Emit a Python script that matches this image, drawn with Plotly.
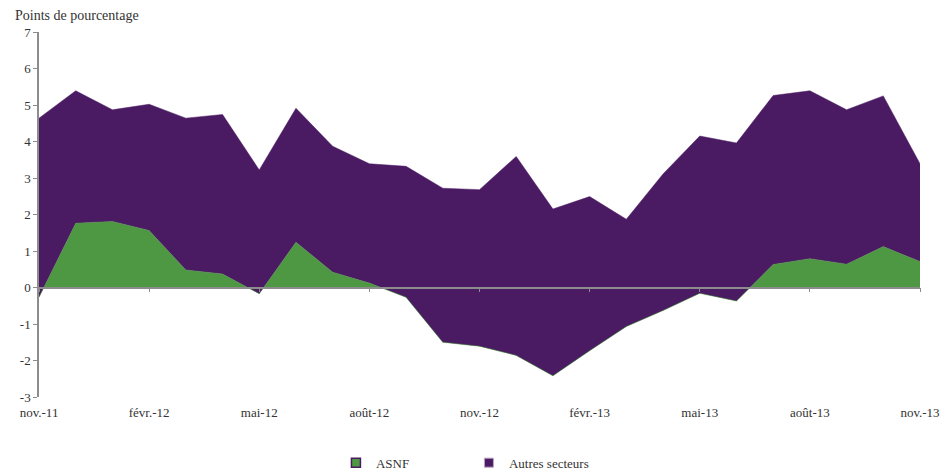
import plotly.graph_objects as go

months = ["nov.-11","déc.-11","janv.-12","févr.-12","mars-12","avr.-12","mai-12","juin-12",
          "juil.-12","août-12","sept.-12","oct.-12","nov.-12","déc.-12","janv.-13","févr.-13",
          "mars-13","avr.-13","mai-13","juin-13","juil.-13","août-13","sept.-13","oct.-13","nov.-13"]
asnf = [-0.27, 1.76, 1.81, 1.56, 0.48, 0.37, -0.17, 1.24, 0.42, 0.12, -0.27, -1.50, -1.61,
        -1.86, -2.42, -1.73, -1.07, -0.63, -0.16, -0.37, 0.63, 0.79, 0.64, 1.12, 0.71]
autres = [4.91, 3.63, 3.06, 3.46, 4.16, 4.37, 3.39, 3.67, 3.45, 3.27, 3.59, 4.22, 4.29,
          5.45, 4.57, 4.22, 2.94, 3.74, 4.31, 4.33, 4.63, 4.60, 4.23, 4.13, 2.68]
tick_idx = [0, 3, 6, 9, 12, 15, 18, 21, 24]
tick_labels = ["nov.-11","févr.-12","mai-12","août-12","nov.-12","févr.-13","mai-13","août-13","nov.-13"]
y_ticks = [-3, -2, -1, 0, 1, 2, 3, 4, 5, 6, 7]
y_labels = ["-3", "-2", "-1", "0", "1", "2", "3", "4", "5", "6", "7"]

GREEN = "#4e9844"
PURPLE = "#4a1a62"
FONT = "Liberation Serif, DejaVu Serif, serif"
TXT = "#333333"
x = list(range(len(months)))

fig = go.Figure()
fig.add_trace(go.Scatter(x=x, y=asnf, name="ASNF", stackgroup="s", mode="lines",
                         line=dict(width=0.5, color=GREEN), fillcolor=GREEN, showlegend=False))
fig.add_trace(go.Scatter(x=x, y=autres, name="Autres secteurs", stackgroup="s", mode="lines",
                         line=dict(width=0.5, color=PURPLE), fillcolor=PURPLE, showlegend=False))
# legend swatches
fig.add_trace(go.Scatter(x=[None], y=[None], name="ASNF", mode="markers",
                         marker=dict(symbol="square", size=9, color=GREEN,
                                     line=dict(color=PURPLE, width=1.5))))
fig.add_trace(go.Scatter(x=[None], y=[None], name="Autres secteurs", mode="markers",
                         marker=dict(symbol="square", size=9, color=PURPLE,
                                     line=dict(color="#b9a3c4", width=1))))
# invisible trace to anchor a second x axis drawn at y=0 (zero line with ticks)
fig.add_trace(go.Scatter(x=x, y=[None]*len(x), xaxis="x2", showlegend=False, hoverinfo="skip"))

fig.update_layout(
    width=943, height=475,
    margin=dict(l=39, r=23, t=32, b=78, autoexpand=False),
    plot_bgcolor="white", paper_bgcolor="white",
    font=dict(family=FONT, size=13, color=TXT),
    xaxis=dict(range=[0, 24], tickvals=tick_idx, ticktext=tick_labels, showgrid=False,
               zeroline=False, showline=False, ticks="", ticklabelstandoff=6, automargin=False,
               tickfont=dict(family=FONT, size=13, color=TXT)),
    xaxis2=dict(range=[0, 24], overlaying="x", anchor="free", position=0.3,
                tickvals=tick_idx, showticklabels=False, showgrid=False, zeroline=False,
                showline=True, linecolor="#8c8c8c", linewidth=1.5, ticks="outside",
                ticklen=4, tickcolor="#8c8c8c", automargin=False),
    yaxis=dict(range=[-3, 7], tickvals=y_ticks, ticktext=y_labels, showgrid=False, zeroline=False,
               showline=True, linecolor="#8c8c8c", linewidth=1.5, ticks="outside",
               ticklen=4, tickcolor="#8c8c8c", automargin=False,
               tickfont=dict(family=FONT, size=13, color=TXT)),
    legend=dict(orientation="h", x=0.488, xanchor="center", y=-0.18, yanchor="middle",
                font=dict(family=FONT, size=13, color=TXT),
                entrywidth=88, entrywidthmode="pixels", traceorder="normal"),
    annotations=[dict(text="Points de pourcentage", xref="paper", yref="paper",
                      x=-0.03, y=1.02, xanchor="left", yanchor="bottom", showarrow=False,
                      font=dict(family=FONT, size=14, color=TXT))],
)
fig.write_html("out.html", config={"displayModeBar": False},
               post_script="document.body.style.margin='0';")
